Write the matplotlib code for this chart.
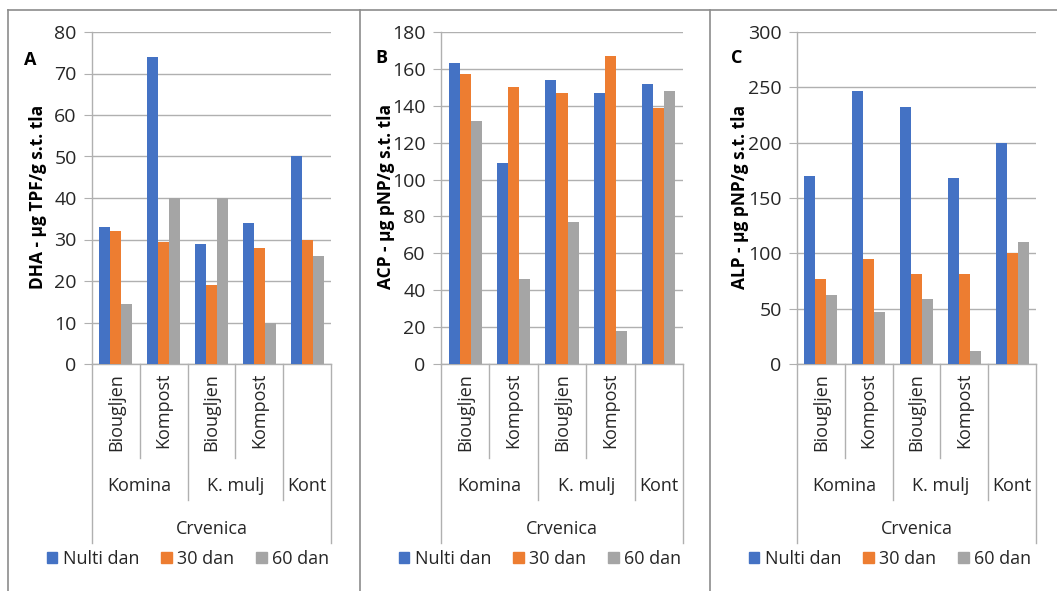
import matplotlib
matplotlib.use("Agg")
import matplotlib.pyplot as plt
import numpy as np
from matplotlib.lines import Line2D
from matplotlib.patches import Patch
from matplotlib.transforms import blended_transform_factory

plt.rcParams["font.family"] = ["Open Sans", "DejaVu Sans"]

SUBCATS = ["Biougljen", "Kompost", "Biougljen", "Kompost", ""]
GROUPS = ["Komina", "K. mulj", "Kont"]
GROUP_SPANS = [(0, 1), (2, 3), (4, 4)]
OUTER = "Crvenica"
SERIES = ["Nulti dan", "30 dan", "60 dan"]
COLORS = ["#4472C4", "#ED7D31", "#A5A5A5"]

DHA_NULTI = [33, 74, 28.8, 34, 50]
DHA_30 = [32, 29.5, 19, 28, 30]
DHA_60 = [14.5, 40, 40, 10, 26]

ACP_NULTI = [163, 109, 154, 147, 152]
ACP_30 = [157, 150, 147, 167, 139]
ACP_60 = [132, 46, 77, 18, 148]

ALP_NULTI = [170, 247, 232, 168, 200]
ALP_30 = [77, 95, 81, 81, 100]
ALP_60 = [62, 47, 59, 12, 110]

PANELS = [
    ("A", "DHA - µg TPF/g s.t. tla", [DHA_NULTI, DHA_30, DHA_60], 80, 10),
    ("B", "ACP - µg pNP/g s.t. tla", [ACP_NULTI, ACP_30, ACP_60], 180, 20),
    ("C", "ALP - µg pNP/g s.t. tla", [ALP_NULTI, ALP_30, ALP_60], 300, 50),
]

W, H = 1057, 591
GRID = "#b0b0b0"
FRAME = "#8c8c8c"
TXT = "#262626"

# pixel layout per panel: axes left/right, y-label x, letter pos, legend centre
LAYOUT = [
    dict(x0=92, x1=331, ylab=38, letter=(30, 60), leg=188),
    dict(x0=441, x1=683, ylab=386, letter=(381, 58), leg=540),
    dict(x0=797, x1=1036, ylab=740, letter=(737, 58), leg=890),
]
Y_TOP, Y_BOT = 32, 364


def fy(py):
    return 1 - py / H


fig = plt.figure(figsize=(W / 100, H / 100), dpi=100)

# outer frame lines
for px in [8, 360, 710]:
    fig.add_artist(Line2D([px / W, px / W], [0, fy(10)], color=FRAME, lw=1.2,
                          transform=fig.transFigure))
fig.add_artist(Line2D([8 / W, 1], [fy(10), fy(10)], color=FRAME, lw=1.2,
                      transform=fig.transFigure))

x = np.arange(len(SUBCATS))
width = 0.23

for (letter, ylabel, series, ymax, step), lay in zip(PANELS, LAYOUT):
    ax = fig.add_axes([lay["x0"] / W, fy(Y_BOT), (lay["x1"] - lay["x0"]) / W,
                       (Y_BOT - Y_TOP) / H])
    for i, (vals, col, name) in enumerate(zip(series, COLORS, SERIES)):
        ax.bar(x + (i - 1) * width, vals, width, color=col, label=name, zorder=3)
    ax.set_xlim(-0.5, len(SUBCATS) - 0.5)
    ax.set_ylim(0, ymax)
    ax.set_yticks(np.arange(0, ymax + step, step))
    ax.yaxis.grid(True, color=GRID, lw=1, zorder=0)
    ax.tick_params(axis="y", length=6, color=GRID, labelsize=14, pad=5,
                   labelcolor=TXT)
    ax.set_xticks([])
    for s in ["top", "right"]:
        ax.spines[s].set_visible(False)
    for s in ["left", "bottom"]:
        ax.spines[s].set_color(GRID)
        ax.spines[s].set_linewidth(1)

    tr = blended_transform_factory(ax.transData, fig.transFigure)
    # separators of the multi-level category axis
    for b in np.arange(-0.5, len(SUBCATS)):
        if b in (-0.5, len(SUBCATS) - 0.5):
            bottom = 543
        elif b in (1.5, 3.5):
            bottom = 500
        else:
            bottom = 458
        ax.add_artist(Line2D([b, b], [fy(Y_BOT), fy(bottom)], color=GRID, lw=1,
                             transform=tr, clip_on=False))
    for xi, lab in zip(x, SUBCATS):
        if lab:
            ax.text(xi, fy(373), lab, rotation=90, ha="center", va="top",
                    fontsize=13, color=TXT, transform=tr)
    for g, (a, b) in zip(GROUPS, GROUP_SPANS):
        ax.text((a + b) / 2, fy(486), g, ha="center", va="center",
                fontsize=13, color=TXT, transform=tr)
    ax.text((len(SUBCATS) - 1) / 2, fy(529), OUTER, ha="center", va="center",
            fontsize=13, color=TXT, transform=tr)

    fig.text(lay["ylab"] / W, fy(197), ylabel, rotation=90, ha="center",
             va="center", fontsize=12.5, fontweight="bold", color="black")
    fig.text(lay["letter"][0] / W, fy(lay["letter"][1]), letter, ha="center",
             va="center", fontsize=13, fontweight="bold")

    handles = [Patch(color=c) for c in COLORS]
    fig.legend(handles, SERIES, loc="center",
               bbox_to_anchor=(lay["leg"] / W, fy(559)), ncol=3, frameon=False,
               fontsize=13, handlelength=0.6, handleheight=0.6,
               handletextpad=0.3, columnspacing=1.2, labelcolor=TXT)

fig.savefig("out.png", dpi=100)
